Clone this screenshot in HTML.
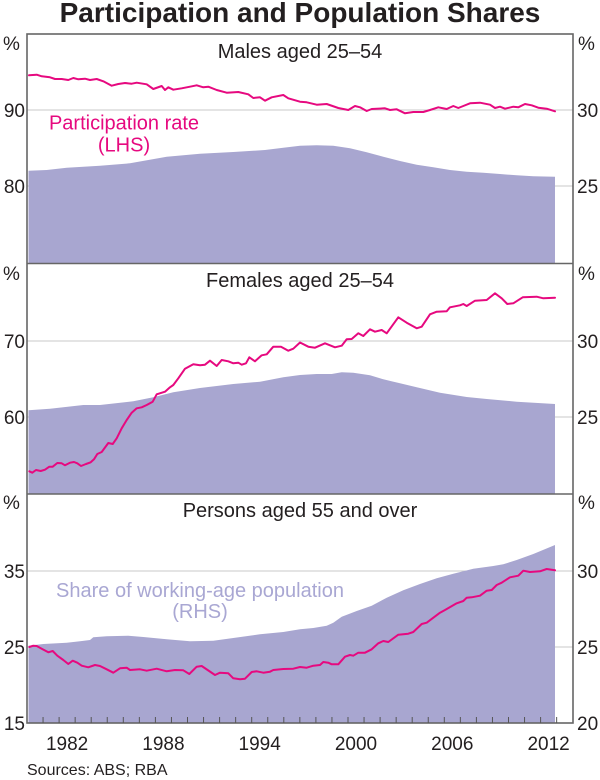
<!DOCTYPE html>
<html>
<head>
<meta charset="utf-8">
<style>
html,body{margin:0;padding:0;background:#fff;}
svg{display:block;}
text{font-family:"Liberation Sans",Arial,sans-serif;}
</style>
</head>
<body>
<svg width="600" height="780" viewBox="0 0 600 780" xmlns="http://www.w3.org/2000/svg">
<rect x="0" y="0" width="600" height="780" fill="#fff"/>
<!-- Title -->
<text x="300" y="22" text-anchor="middle" font-size="28" font-weight="bold" fill="#231f20">Participation and Population Shares</text>

<!-- gridlines -->
<g stroke="#c9c9c9" stroke-width="1">
<line x1="27" y1="110" x2="573" y2="110"/>
<line x1="27" y1="186" x2="573" y2="186"/>
<line x1="27" y1="341" x2="573" y2="341"/>
<line x1="27" y1="417" x2="573" y2="417"/>
<line x1="27" y1="571" x2="573" y2="571"/>
<line x1="27" y1="647" x2="573" y2="647"/>
</g>

<!-- areas -->
<g fill="#a8a6d0">
<path d="M28.5,263 L28.5,170.7 L46.7,170 L66.7,167.7 L100,165.7 L130,163.3 L166.7,156.7 L200,153.7 L233.3,152 L265,150 L283.3,147.7 L300,145.7 L316.7,145.3 L333.3,145.7 L350,148.3 L366.7,152.3 L383.3,156.7 L400,161 L416.7,164.7 L433.3,167.3 L450,170 L466.7,171.7 L483.3,172.7 L500,174 L516.7,175.3 L533.3,176.3 L555,176.7 L555,263 Z"/>
<path d="M28.5,494 L28.5,410.3 L50,408.7 L83.3,405 L100,405 L133.3,401.3 L153.3,397.3 L173.3,392.3 L200,388 L233.3,384 L260,381.7 L283.3,377.3 L300,375 L316.7,374 L331.7,374 L341.7,372.3 L353.3,372.7 L370,375.3 L383.3,379.3 L400,383.3 L416.7,387.3 L440,392.7 L466.7,397 L486.7,399 L516.7,401.7 L555,404 L555,494 Z"/>
<path d="M28.5,723 L28.5,645.7 L43.3,644 L66.7,642.7 L80,641.3 L90,640 L93.3,637.3 L106.7,636.3 L128.3,635.7 L143.3,637 L166.7,639.3 L190,641.3 L213.3,640.7 L233.3,638 L260,634.3 L283.3,632 L300,629.3 L313.3,628 L326.7,625.7 L333.3,622.7 L341.7,616.7 L356.7,611 L371.7,605.7 L386.7,597.7 L403.3,590.3 L420,584 L436.7,578.3 L453.3,573.7 L473.3,568.7 L493.3,566 L503.3,564.3 L516.7,560 L533.3,554 L555,545 L555,723 Z"/>
</g>

<!-- pink lines -->
<g fill="none" stroke="#e6097f" stroke-width="2" stroke-linejoin="round" stroke-linecap="round">
<path d="M29,75.3 L36.7,74.7 L41.7,76.3 L50,77.3 L55,79 L61.7,79 L68.3,80 L73.3,78 L78.3,79.3 L85,78.7 L90,80 L96.7,79 L103.3,81.3 L111.7,85.7 L118.3,84 L125,83 L131.7,83.7 L136.7,82.7 L146.7,84.3 L153.3,89 L161.7,86 L165,90 L168.3,87.3 L173.3,89.7 L181.7,88.3 L190,86.7 L196.7,85.3 L203.3,87.3 L208.3,86.7 L216.7,90 L226.7,92.7 L238.3,92 L248.3,94.3 L253.3,98 L260,97.3 L265,100.7 L271.7,97.3 L283.3,95 L288.3,98.3 L300,101.7 L306.7,102.3 L316.7,104.7 L326.7,104 L338.3,108 L348.3,110 L355,106 L360,107.3 L366.7,111 L371.7,109 L385,108.3 L390,110 L396.7,109.3 L405,113.3 L413.3,112 L423.3,112 L430,110 L438.3,107.3 L446.7,109 L453.3,106 L458.3,108 L463.3,106 L470,103.3 L480,102.7 L490,104.7 L495,108 L500,106.7 L505,108.7 L513.3,106.7 L518.3,107.3 L525,104 L531.7,105.3 L538.3,107.7 L546.7,108.7 L555,111.3"/>
<path d="M29.3,471.3 L32.3,472.7 L36,470 L40.7,471 L45,469.7 L49.3,466.7 L52.7,466.7 L57.3,463 L61.7,463.3 L65,465.3 L70,462.7 L74,462 L77.3,463.3 L81,466 L86,464 L90.7,462.3 L94,459.3 L97.3,454 L101.7,452 L108.3,443 L112.7,444 L116.7,438.3 L121.7,428.3 L126.7,420 L131.7,412.7 L136.7,408.3 L141.7,407.3 L146.7,405 L152.7,401.7 L156.7,394.3 L165,391.7 L170,387.3 L173.3,385 L178.3,378.3 L185,368.7 L193.3,364.3 L200,365.3 L205,364.7 L210,360.7 L216.7,366 L221.7,360 L228.3,361.3 L233.3,363.3 L238.3,362.7 L241.7,364.7 L246,363.3 L249.3,357.3 L255,361.3 L261.7,355.3 L266.7,354.3 L273.3,346.7 L281,346.7 L288.3,350.7 L293.3,348.7 L300,342.5 L308.3,346.7 L315,347.7 L325,343.3 L335,347.3 L341.7,345.7 L346.7,339.3 L351.7,339 L358.3,333.3 L363.3,336 L370,329.3 L375,331.7 L381.7,330 L386.7,333.3 L398.3,317.3 L406.7,322.7 L416.7,328.3 L421.7,326.7 L430,314.3 L436.7,311.7 L446.7,311.3 L450,307.3 L460,305.3 L463.3,304 L466.7,306 L475,300.7 L486.7,300 L495,293.3 L501.7,298.3 L507.3,304 L513.3,303.3 L522.7,297.3 L536.7,296.7 L543.3,298.3 L555,297.7"/>
<path d="M29.3,647 L33.3,645.7 L36.7,646 L41.7,648.7 L48.3,652.3 L52.7,651 L57.3,655.7 L63.3,660 L68.3,664 L72.7,660.7 L77.3,662.7 L81.7,665.7 L88.3,667.3 L95,665 L100,666 L106.7,669.3 L113.3,672.7 L120,668.3 L126.7,667.7 L130,670 L140,669.3 L146.7,670.7 L156.7,668.7 L166.7,671.3 L175,670 L183.3,670.3 L189.3,674 L196.7,666.7 L201.7,666 L215,675 L220,672.7 L228.3,673.3 L233.3,678.3 L240,679.3 L245,678.7 L251.7,672 L256.7,671.3 L263.3,672.7 L270,671.7 L273.3,670 L283.3,669 L293.3,668.7 L300,667 L306.7,667.7 L313.3,665.7 L320,665 L323.3,662 L328.3,662.7 L331.7,664.3 L338.3,664.3 L345,656.7 L350,655 L353.3,655.7 L358.3,652.7 L365,652.7 L371.7,649.3 L378.3,643.3 L383.3,641 L388.3,642 L398.3,634.7 L408.3,633.7 L413.3,632 L421.7,624 L426.7,622.7 L440,612.7 L445,610 L456.7,603.3 L463.3,601 L466.7,597.7 L471.7,597.3 L480,595.7 L486.7,590.7 L491.7,590 L496.7,585 L501.7,582.7 L510,577.3 L518.3,575.7 L523.3,570.7 L530,572 L540,571.3 L546.7,569 L555,570.3"/>
</g>

<!-- frame -->
<g stroke="#666" stroke-width="1.6" fill="none">
<rect x="27" y="34" width="546" height="689"/>
<line x1="27" y1="263.5" x2="573" y2="263.5"/>
<line x1="27" y1="494" x2="573" y2="494"/>
</g>

<!-- year ticks -->
<g stroke="#555" stroke-width="1">
<line x1="43.05" y1="723" x2="43.05" y2="717"/>
<line x1="59.1" y1="723" x2="59.1" y2="717"/>
<line x1="75.15" y1="723" x2="75.15" y2="717"/>
<line x1="91.2" y1="723" x2="91.2" y2="717"/>
<line x1="107.25" y1="723" x2="107.25" y2="717"/>
<line x1="123.3" y1="723" x2="123.3" y2="717"/>
<line x1="139.35" y1="723" x2="139.35" y2="717"/>
<line x1="155.4" y1="723" x2="155.4" y2="717"/>
<line x1="171.45" y1="723" x2="171.45" y2="717"/>
<line x1="187.5" y1="723" x2="187.5" y2="717"/>
<line x1="203.55" y1="723" x2="203.55" y2="717"/>
<line x1="219.6" y1="723" x2="219.6" y2="717"/>
<line x1="235.65" y1="723" x2="235.65" y2="717"/>
<line x1="251.7" y1="723" x2="251.7" y2="717"/>
<line x1="267.75" y1="723" x2="267.75" y2="717"/>
<line x1="283.8" y1="723" x2="283.8" y2="717"/>
<line x1="299.85" y1="723" x2="299.85" y2="717"/>
<line x1="315.9" y1="723" x2="315.9" y2="717"/>
<line x1="331.95" y1="723" x2="331.95" y2="717"/>
<line x1="348" y1="723" x2="348" y2="717"/>
<line x1="364.05" y1="723" x2="364.05" y2="717"/>
<line x1="380.1" y1="723" x2="380.1" y2="717"/>
<line x1="396.15" y1="723" x2="396.15" y2="717"/>
<line x1="412.2" y1="723" x2="412.2" y2="717"/>
<line x1="428.25" y1="723" x2="428.25" y2="717"/>
<line x1="444.3" y1="723" x2="444.3" y2="717"/>
<line x1="460.35" y1="723" x2="460.35" y2="717"/>
<line x1="476.4" y1="723" x2="476.4" y2="717"/>
<line x1="492.45" y1="723" x2="492.45" y2="717"/>
<line x1="508.5" y1="723" x2="508.5" y2="717"/>
<line x1="524.55" y1="723" x2="524.55" y2="717"/>
<line x1="540.6" y1="723" x2="540.6" y2="717"/>
<line x1="556.65" y1="723" x2="556.65" y2="717"/>
</g>

<!-- panel titles -->
<g font-size="20" fill="#231f20" text-anchor="middle">
<text x="300" y="58">Males aged 25–54</text>
<text x="300" y="287">Females aged 25–54</text>
<text x="300" y="517">Persons aged 55 and over</text>
</g>

<!-- legend labels -->
<g font-size="20" text-anchor="middle">
<text x="124" y="129.5" fill="#e6097f">Participation rate</text>
<text x="124" y="151.5" fill="#e6097f">(LHS)</text>
<text x="200" y="597" fill="#a9a7d3">Share of working-age population</text>
<text x="200" y="618" fill="#a9a7d3">(RHS)</text>
</g>

<!-- left axis labels -->
<g font-size="19" fill="#231f20" text-anchor="end">
<text x="25" y="117">90</text>
<text x="25" y="193">80</text>
<text x="25" y="348">70</text>
<text x="25" y="424">60</text>
<text x="25" y="578">35</text>
<text x="25" y="654">25</text>
<text x="25" y="730">15</text>
</g>
<g font-size="19" fill="#231f20">
<text x="3" y="50">%</text>
<text x="3" y="280">%</text>
<text x="3" y="509">%</text>
<text x="578" y="50">%</text>
<text x="578" y="280">%</text>
<text x="578" y="509">%</text>
<text x="577" y="117">30</text>
<text x="577" y="193">25</text>
<text x="577" y="348">30</text>
<text x="577" y="424">25</text>
<text x="577" y="578">30</text>
<text x="577" y="654">25</text>
<text x="577" y="730">20</text>
</g>

<!-- year labels -->
<g font-size="19" fill="#231f20" text-anchor="middle">
<text x="67.1" y="750">1982</text>
<text x="163.4" y="750">1988</text>
<text x="259.7" y="750">1994</text>
<text x="356" y="750">2000</text>
<text x="452.3" y="750">2006</text>
<text x="548.6" y="750">2012</text>
</g>

<text x="27" y="775" font-size="16" fill="#231f20">Sources: ABS; RBA</text>
</svg>
</body>
</html>
